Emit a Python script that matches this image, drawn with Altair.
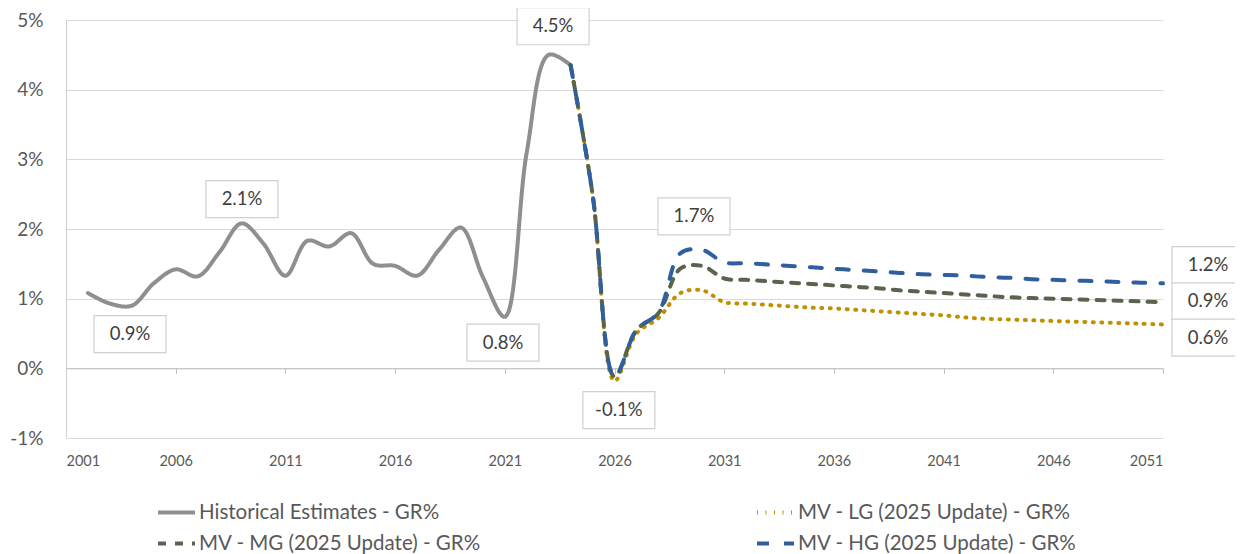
import altair as alt
import pandas as pd

# ---------------- data ----------------
series = [
    "Historical Estimates - GR%",
    "MV - LG (2025 Update) - GR%",
    "MV - MG (2025 Update) - GR%",
    "MV - HG (2025 Update) - GR%",
]
# legend order (filled column by column, as in the reference)
legend_order = [series[0], series[2], series[1], series[3]]

hist_years = list(range(2002, 2025))
hist_vals = [1.08, 0.93, 0.90, 1.22, 1.42, 1.32, 1.67, 2.08, 1.79, 1.33, 1.83, 1.75,
             1.94, 1.50, 1.47, 1.33, 1.70, 2.02, 1.31, 0.74, 3.10, 4.50, 4.35]

fc_years = list(range(2024, 2052))
lg_vals = [4.35, 2.50, -0.18, 0.50, 0.72, 1.08, 1.12, 0.95,
           0.93, 0.91, 0.89, 0.87, 0.86, 0.84, 0.82, 0.80, 0.78, 0.76,
           0.73, 0.71, 0.70, 0.69, 0.68, 0.67, 0.66, 0.65, 0.64, 0.63]
mg_vals = [4.35, 2.50, -0.12, 0.55, 0.79, 1.43, 1.47, 1.29,
           1.27, 1.25, 1.23, 1.21, 1.19, 1.17, 1.15, 1.12, 1.10, 1.08,
           1.06, 1.04, 1.02, 1.01, 1.00, 0.99, 0.98, 0.97, 0.96, 0.95]
hg_vals = [4.35, 2.50, -0.12, 0.55, 0.80, 1.65, 1.70, 1.52,
           1.51, 1.49, 1.47, 1.45, 1.43, 1.41, 1.39, 1.37, 1.35, 1.34,
           1.33, 1.31, 1.30, 1.28, 1.27, 1.26, 1.25, 1.24, 1.23, 1.22]

x_ticks = [2001, 2006, 2011, 2016, 2021, 2026, 2031, 2036, 2041, 2046, 2051]
y_ticks = [-1, 0, 1, 2, 3, 4, 5]

label_text = ["0.9%", "2.1%", "4.5%", "0.8%", "-0.1%", "1.7%", "1.2%", "0.9%", "0.6%"]
label_year = [2003.92, 2009.02, 2023.2, 2020.92, 2026.2, 2029.62, 2053.05, 2053.05, 2053.05]
label_val = [0.49, 2.43, 4.91, 0.37, -0.60, 2.18, 1.48, 0.96, 0.44]

# ---------------- frames ----------------
rows = []
for y, v in zip(hist_years, hist_vals):
    rows.append({"series": series[0], "year": y, "value": v})
for name, vals in zip(series[1:], [lg_vals, mg_vals, hg_vals]):
    for y, v in zip(fc_years, vals):
        rows.append({"series": name, "year": y, "value": v})
df = pd.DataFrame(rows)

labels = pd.DataFrame({"text": label_text, "lx": label_year, "ly": label_val})

# ---------------- styling ----------------
FONT = "Lato"
style = {
    series[0]: ("#8f8f8f", [1, 0], 4),
    series[1]: ("#bf9000", [1, 7.5], 3.6),
    series[2]: ("#58644c", [8, 9], 4),
    series[3]: ("#2f5f9e", [12, 15], 4.5),
}
colors = [style[s][0] for s in legend_order]
dashes = [style[s][1] for s in legend_order]
widths = [style[s][2] for s in legend_order]

W, H = 1097, 418
xscale = alt.Scale(domain=[2001, 2051], nice=False, zero=False)
yscale = alt.Scale(domain=[-1, 5], nice=False, zero=False)

legend = alt.Legend(
    title=None, orient="none", legendX=90, legendY=472, columns=2,
    columnPadding=268, rowPadding=0, symbolType="stroke", symbolSize=1369,
    symbolStrokeWidth=4, labelFont=FONT, labelFontSize=20.5, labelColor="#595959",
    labelOffset=2, labelLimit=500,
)

x_label_axis = alt.Axis(
    orient="bottom", values=x_ticks, format="d", grid=False, domain=False, ticks=False,
    labelPadding=16, labelFontSize=14.5, labelColor="#595959", labelFont=FONT, title=None,
)
x_zero_axis = alt.Axis(
    orient="bottom", values=x_ticks, labels=False, grid=False, domain=True,
    domainColor="#bfbfbf", domainWidth=1, ticks=True, tickSize=5, tickColor="#bfbfbf",
    tickWidth=1, offset=-H / 6, title=None,
)
y_axis = alt.Axis(
    orient="left", values=y_ticks, labelExpr="datum.value + '%'", grid=True,
    gridColor="#d9d9d9", gridWidth=1, domain=True, domainColor="#d0d0d0", ticks=False,
    labelPadding=23, labelFontSize=19, labelColor="#595959", labelFont=FONT, title=None,
)

lines = alt.Chart(df).mark_line(
    interpolate="catmull-rom", strokeCap="round", strokeJoin="round"
).encode(
    x=alt.X("year:Q", scale=xscale, axis=x_label_axis),
    y=alt.Y("value:Q", scale=yscale, axis=y_axis),
    color=alt.Color("series:N", scale=alt.Scale(domain=legend_order, range=colors),
                    legend=legend, sort=legend_order),
    strokeDash=alt.StrokeDash("series:N", scale=alt.Scale(domain=legend_order, range=dashes),
                              legend=legend, sort=legend_order),
    strokeWidth=alt.StrokeWidth("series:N", scale=alt.Scale(domain=legend_order, range=widths),
                                legend=None),
)

box_path = "M-1,-0.514H1V0.514H-1Z"
boxes = alt.Chart(labels).mark_point(
    shape=box_path, size=72 * 72, filled=True, fill="white", stroke="#d0d0d0",
    strokeWidth=1.2, opacity=1,
).encode(
    x=alt.X("lx:Q", scale=xscale, axis=x_zero_axis),
    y=alt.Y("ly:Q", scale=yscale, axis=y_axis),
)

texts = alt.Chart(labels).mark_text(
    font=FONT, fontSize=18.5, color="#404040", align="center", baseline="middle",
).encode(
    x=alt.X("lx:Q", scale=xscale, axis=None),
    y=alt.Y("ly:Q", scale=yscale, axis=y_axis),
    text="text:N",
)

chart = (
    alt.layer(lines, boxes, texts)
    .resolve_axis(x="independent")
    .properties(
        width=W, height=H,
        padding={"left": 58, "top": 12, "right": 72, "bottom": 116},
        autosize=alt.AutoSizeParams(type="none"),
        background="white",
    )
    .configure(font=FONT, view=alt.ViewConfig(stroke="transparent", strokeWidth=0))
)

chart.save("out.html", embed_options={"renderer": "svg", "actions": False})
